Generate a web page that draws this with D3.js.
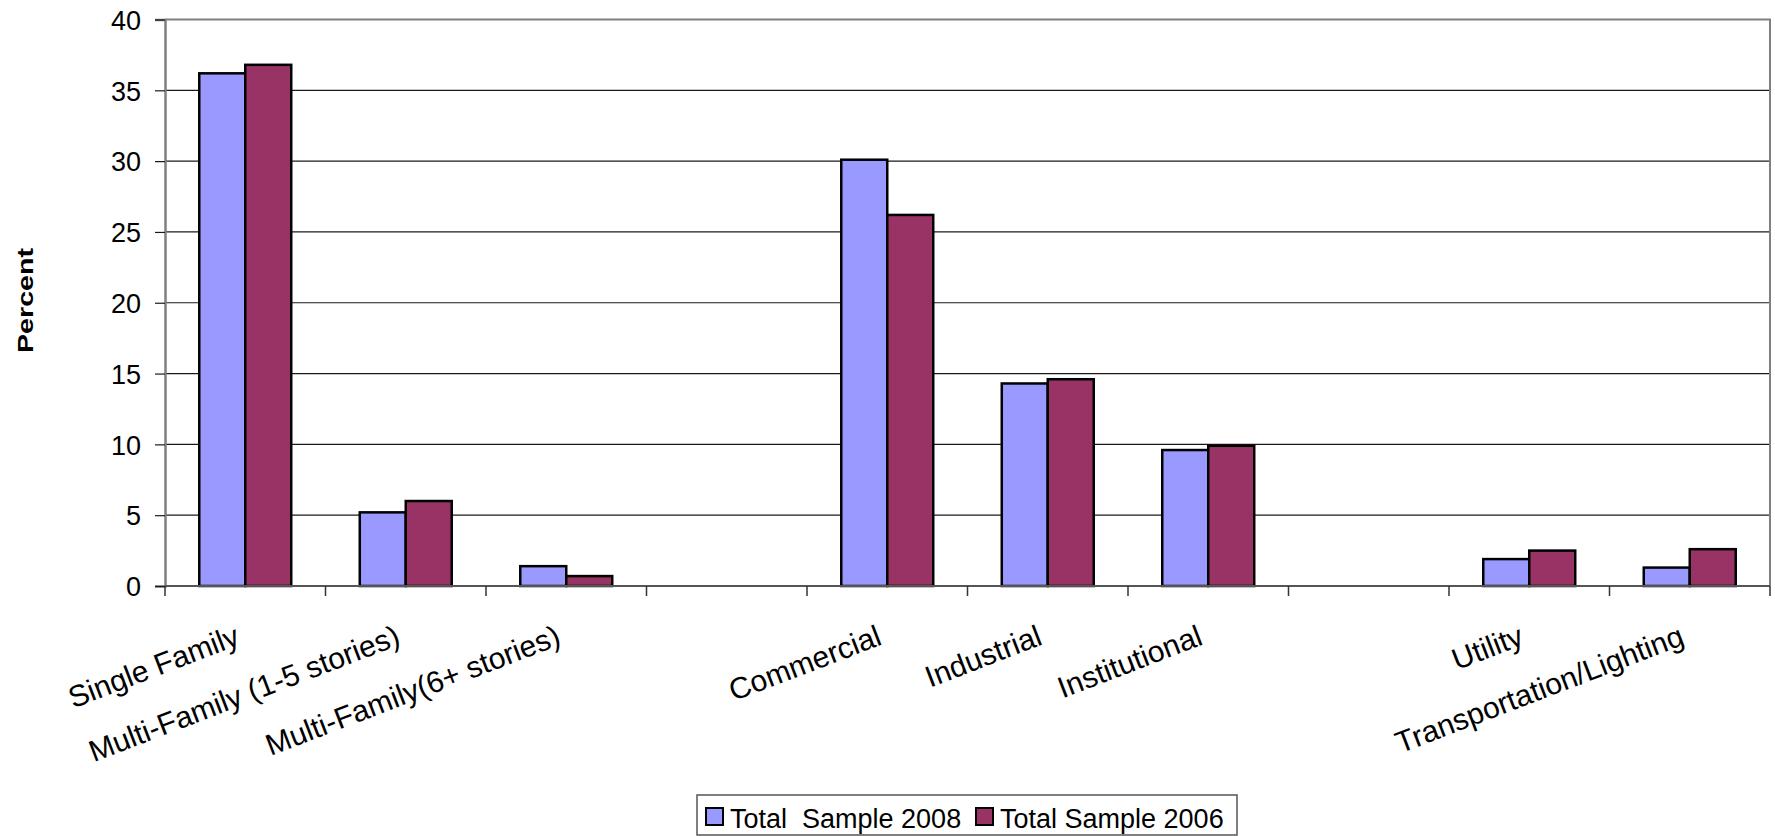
<!DOCTYPE html>
<html>
<head>
<meta charset="utf-8">
<script src="https://cdn.jsdelivr.net/npm/d3@7"></script>
<style>
  html, body { margin: 0; padding: 0; background: #fff; }
  svg text { font-family: "Liberation Sans", Arial, sans-serif; fill: #000; }
</style>
</head>
<body>
<svg id="chart" width="1775" height="836"></svg>
<script>
// Building sector categories (blank slots separate the residential, non-residential and infrastructure groups)
const categories = [
  "Single Family",
  "Multi-Family (1-5 stories)",
  "Multi-Family(6+ stories)",
  "",
  "Commercial",
  "Industrial",
  "Institutional",
  "",
  "Utility",
  "Transportation/Lighting"
];
const seriesNames = ["Total  Sample 2008", "Total Sample 2006"];
const sample2008 = [36.2, 5.2, 1.4, null, 30.1, 14.3, 9.6, null, 1.9, 1.3];
const sample2006 = [36.8, 6.0, 0.7, null, 26.2, 14.6, 9.9, null, 2.5, 2.6];
const yTicks = [0, 5, 10, 15, 20, 25, 30, 35, 40];
const colors = ["#9999FF", "#993366"];

const svg = d3.select("#chart");
const plot = { left: 165, right: 1770, top: 19.5, bottom: 586 };

const x = d3.scaleBand()
  .domain(d3.range(categories.length))
  .range([plot.left, plot.right])
  .paddingInner(0.427)
  .paddingOuter(0.2135);

const xs = d3.scaleBand()
  .domain(d3.range(seriesNames.length))
  .range([0, x.bandwidth()]);

const y = d3.scaleLinear().domain([0, 40]).range([plot.bottom, plot.top]);

// horizontal gridlines
svg.append("g")
  .selectAll("line")
  .data(yTicks.filter(t => t > 0 && t < 40))
  .join("line")
  .attr("x1", plot.left).attr("x2", plot.right)
  .attr("y1", d => y(d)).attr("y2", d => y(d))
  .attr("stroke", "#1a1a1a").attr("stroke-width", 1.2);

// plot-area frame: top and right edges
svg.append("path")
  .attr("d", `M${plot.left},${y(40)}H${plot.right}V${plot.bottom}`)
  .attr("fill", "none").attr("stroke", "#808080").attr("stroke-width", 2);

// bars
const series = [sample2008, sample2006];
series.forEach((vals, si) => {
  svg.append("g")
    .selectAll("rect")
    .data(vals.map((v, i) => ({ v, i })).filter(d => d.v !== null))
    .join("rect")
    .attr("x", d => x(d.i) + xs(si))
    .attr("y", d => y(d.v))
    .attr("width", xs.bandwidth())
    .attr("height", d => y(0) - y(d.v))
    .attr("fill", colors[si])
    .attr("stroke", "#000")
    .attr("stroke-width", 2.5);
});

// y axis
const yAxis = svg.append("g")
  .attr("transform", `translate(${plot.left},0)`)
  .call(d3.axisLeft(y).tickValues(yTicks).tickSize(10).tickPadding(14));
yAxis.select(".domain").attr("stroke", "#808080").attr("stroke-width", 2.5);
yAxis.selectAll(".tick line").attr("stroke", "#1a1a1a").attr("stroke-width", 1.2);
yAxis.selectAll(".tick text")
  .attr("font-size", 27)
  .attr("font-family", "Liberation Sans, Arial, sans-serif")
  .attr("dy", "0.36em");

// x axis line with ticks at category boundaries
svg.append("line")
  .attr("x1", plot.left).attr("x2", plot.right)
  .attr("y1", plot.bottom).attr("y2", plot.bottom)
  .attr("stroke", "#555").attr("stroke-width", 2);
const step = x.step();
svg.append("g")
  .selectAll("line")
  .data(d3.range(categories.length + 1))
  .join("line")
  .attr("x1", i => plot.left + i * step).attr("x2", i => plot.left + i * step)
  .attr("y1", plot.bottom).attr("y2", plot.bottom + 10)
  .attr("stroke", "#333").attr("stroke-width", 1.5);

// rotated category labels
svg.append("g")
  .selectAll("text")
  .data(categories.map((c, i) => ({ c, i })).filter(d => d.c !== ""))
  .join("text")
  .attr("transform", d => `translate(${x(d.i) + x.bandwidth() / 2 - 4},${plot.bottom + 58}) rotate(-21)`)
  .attr("text-anchor", "end")
  .attr("font-size", 30)
  .text(d => d.c);

// y axis title
svg.append("text")
  .attr("transform", `translate(33,300.5) rotate(-90)`)
  .attr("text-anchor", "middle")
  .attr("font-size", 22)
  .attr("font-weight", "bold")
  .attr("textLength", 105)
  .attr("lengthAdjust", "spacingAndGlyphs")
  .text("Percent");

// legend
const legend = svg.append("g");
legend.append("rect")
  .attr("x", 697).attr("y", 795)
  .attr("width", 540).attr("height", 40)
  .attr("fill", "#fff").attr("stroke", "#555").attr("stroke-width", 1.5);
const legendItems = [{ x: 706 }, { x: 976 }];
seriesNames.forEach((name, i) => {
  const lx = legendItems[i].x;
  legend.append("rect")
    .attr("x", lx).attr("y", 808)
    .attr("width", 17).attr("height", 17)
    .attr("fill", colors[i]).attr("stroke", "#000").attr("stroke-width", 2);
  legend.append("text")
    .attr("x", lx + 24).attr("y", 828)
    .attr("font-size", 27)
    .style("white-space", "pre")
    .text(name);
});
</script>
</body>
</html>
